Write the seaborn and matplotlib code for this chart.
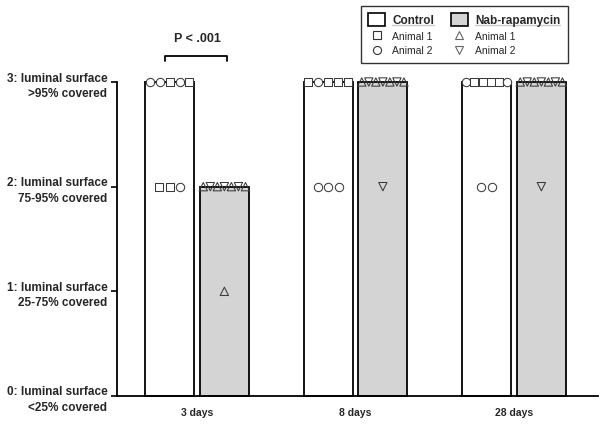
import numpy as np
import pandas as pd
import matplotlib
matplotlib.use("Agg")
import matplotlib.pyplot as plt
import matplotlib.patches as mpatches
from matplotlib.lines import Line2D
from matplotlib.legend_handler import HandlerPatch
import seaborn as sns

# data
days = ["3 days", "8 days", "28 days"]
groups = ["Control", "Nab-rapamycin"]
score_labels = ["0: luminal surface\n<25% covered",
                "1: luminal surface\n25-75% covered",
                "2: luminal surface\n75-95% covered",
                "3: luminal surface\n>95% covered"]

# one entry per vessel section, in the order they appear left to right
ctrl_3d_score = [3, 3, 3, 3, 3, 2, 2, 2]
ctrl_3d_animal = [2, 2, 1, 2, 1, 1, 1, 2]
nab_3d_score = [2, 2, 2, 2, 2, 2, 2, 1]
nab_3d_animal = [1, 2, 1, 2, 1, 2, 1, 1]
ctrl_8d_score = [3, 3, 3, 3, 3, 2, 2, 2]
ctrl_8d_animal = [1, 2, 1, 1, 1, 2, 2, 2]
nab_8d_score = [3, 3, 3, 3, 3, 3, 3, 2]
nab_8d_animal = [1, 2, 1, 2, 1, 2, 1, 2]
ctrl_28d_score = [3, 3, 3, 3, 3, 3, 2, 2]
ctrl_28d_animal = [2, 1, 1, 1, 1, 2, 2, 2]
nab_28d_score = [3, 3, 3, 3, 3, 3, 3, 2]
nab_28d_animal = [1, 2, 1, 2, 1, 2, 1, 2]

rows = []
for day, grp, sc, an in [
        ("3 days", "Control", ctrl_3d_score, ctrl_3d_animal),
        ("3 days", "Nab-rapamycin", nab_3d_score, nab_3d_animal),
        ("8 days", "Control", ctrl_8d_score, ctrl_8d_animal),
        ("8 days", "Nab-rapamycin", nab_8d_score, nab_8d_animal),
        ("28 days", "Control", ctrl_28d_score, ctrl_28d_animal),
        ("28 days", "Nab-rapamycin", nab_28d_score, nab_28d_animal)]:
    for s, a in zip(sc, an):
        rows.append({"day": day, "group": grp, "score": s, "animal": a})
df = pd.DataFrame(rows)

sns.set_style("ticks")
plt.rcParams["font.family"] = ["Liberation Sans", "DejaVu Sans"]

fig = plt.figure(figsize=(6, 4.27), dpi=100)
ax = fig.add_axes([117 / 600, 1 - 397 / 427, 481 / 600, 314 / 427])

bar_w = 0.69
gray = "#d4d4d4"
sns.barplot(data=df, x="day", y="score", hue="group", order=days,
            hue_order=groups, estimator="median", errorbar=None,
            palette=["white", gray], edgecolor="black", linewidth=1.3,
            width=bar_w, gap=0.1, legend=False, ax=ax)
for p in ax.patches:
    p.set_clip_on(False)

# markers spread in a row across each bar
markers = {("Control", 1): "s", ("Control", 2): "o",
           ("Nab-rapamycin", 1): "^", ("Nab-rapamycin", 2): "v"}
slot = bar_w / 2
inner = slot * 0.9
for i, day in enumerate(days):
    for j, grp in enumerate(groups):
        xc = i + (j - 0.5) * slot
        sub = df[(df.day == day) & (df.group == grp)]
        for score, part in sub.groupby("score", sort=False):
            n = len(part)
            step = min(inner / n, 0.066)
            xs = xc + (np.arange(n) - (n - 1) / 2) * step
            for x, a in zip(xs, part.animal):
                m = markers[(grp, a)]
                ax.scatter(x, score, marker=m, s=36 if m != "s" else 30,
                           facecolor="white" if grp == "Control" else "none",
                           edgecolor="#3a3a3a", linewidth=0.75,
                           clip_on=False, zorder=5)

ax.set_xlim(-0.505, 2.53)
ax.set_ylim(0, 3)
ax.set_yticks([0, 1, 2, 3])
ax.set_yticklabels(score_labels, fontsize=8.5, fontweight="bold",
                   linespacing=1.4)
ax.set_xticks(range(len(days)))
ax.set_xticklabels(days, fontsize=7.5, fontweight="bold")
ax.set_xlabel("")
ax.set_ylabel("")
ax.tick_params(axis="x", length=0, pad=8)
ax.tick_params(axis="y", length=4, width=1.2, pad=3, color="black")
sns.despine(ax=ax)
for side in ["left", "bottom"]:
    ax.spines[side].set_linewidth(1.3)
    ax.spines[side].set_color("black")

# significance bracket
ax.plot([-0.2, -0.2, 0.19, 0.19], [3.2, 3.25, 3.25, 3.2], color="black",
        lw=1.3, clip_on=False)
ax.text(0, 3.42, "P < .001", ha="center", va="center", fontsize=9,
        fontweight="bold")


def big_patch(legend, orig_handle, xdescent, ydescent, width, height, fontsize):
    return mpatches.Rectangle((-xdescent, -ydescent - 2), width, height + 4)


handles = [mpatches.Patch(facecolor="white", edgecolor="black", linewidth=1.2),
           Line2D([], [], ls="", marker="s", ms=5.5, mfc="white", mec="#333333", mew=0.8),
           Line2D([], [], ls="", marker="o", ms=5.8, mfc="white", mec="#333333", mew=0.8),
           mpatches.Patch(facecolor=gray, edgecolor="black", linewidth=1.2),
           Line2D([], [], ls="", marker="^", ms=5.8, mfc="white", mec="#666666", mew=0.8),
           Line2D([], [], ls="", marker="v", ms=5.8, mfc="white", mec="#666666", mew=0.8)]
labels = ["Control", "Animal 1", "Animal 2", "Nab-rapamycin", "Animal 1", "Animal 2"]
leg = fig.legend(handles, labels, ncol=2, loc="upper right",
                 bbox_to_anchor=(568 / 600, 1 - 7 / 427), borderaxespad=0,
                 fontsize=7.5, frameon=True, fancybox=False, edgecolor="black",
                 handlelength=1.6, handletextpad=0.7, columnspacing=1.6,
                 labelspacing=0.45, borderpad=0.75,
                 handler_map={mpatches.Patch: HandlerPatch(patch_func=big_patch)})
leg.get_frame().set_linewidth(1.0)
for k in (0, 3):
    leg.get_texts()[k].set_fontsize(8.5)
    leg.get_texts()[k].set_fontweight("bold")

# underline the group names
fig.canvas.draw()
W, H = fig.bbox.width, fig.bbox.height
for k in (0, 3):
    bb = leg.get_texts()[k].get_window_extent()
    y = (bb.y0 + 0.5) / H
    fig.add_artist(Line2D([bb.x0 / W, bb.x1 / W], [y, y], color="black", lw=1.0))

fig.savefig("out.png", dpi=100)
